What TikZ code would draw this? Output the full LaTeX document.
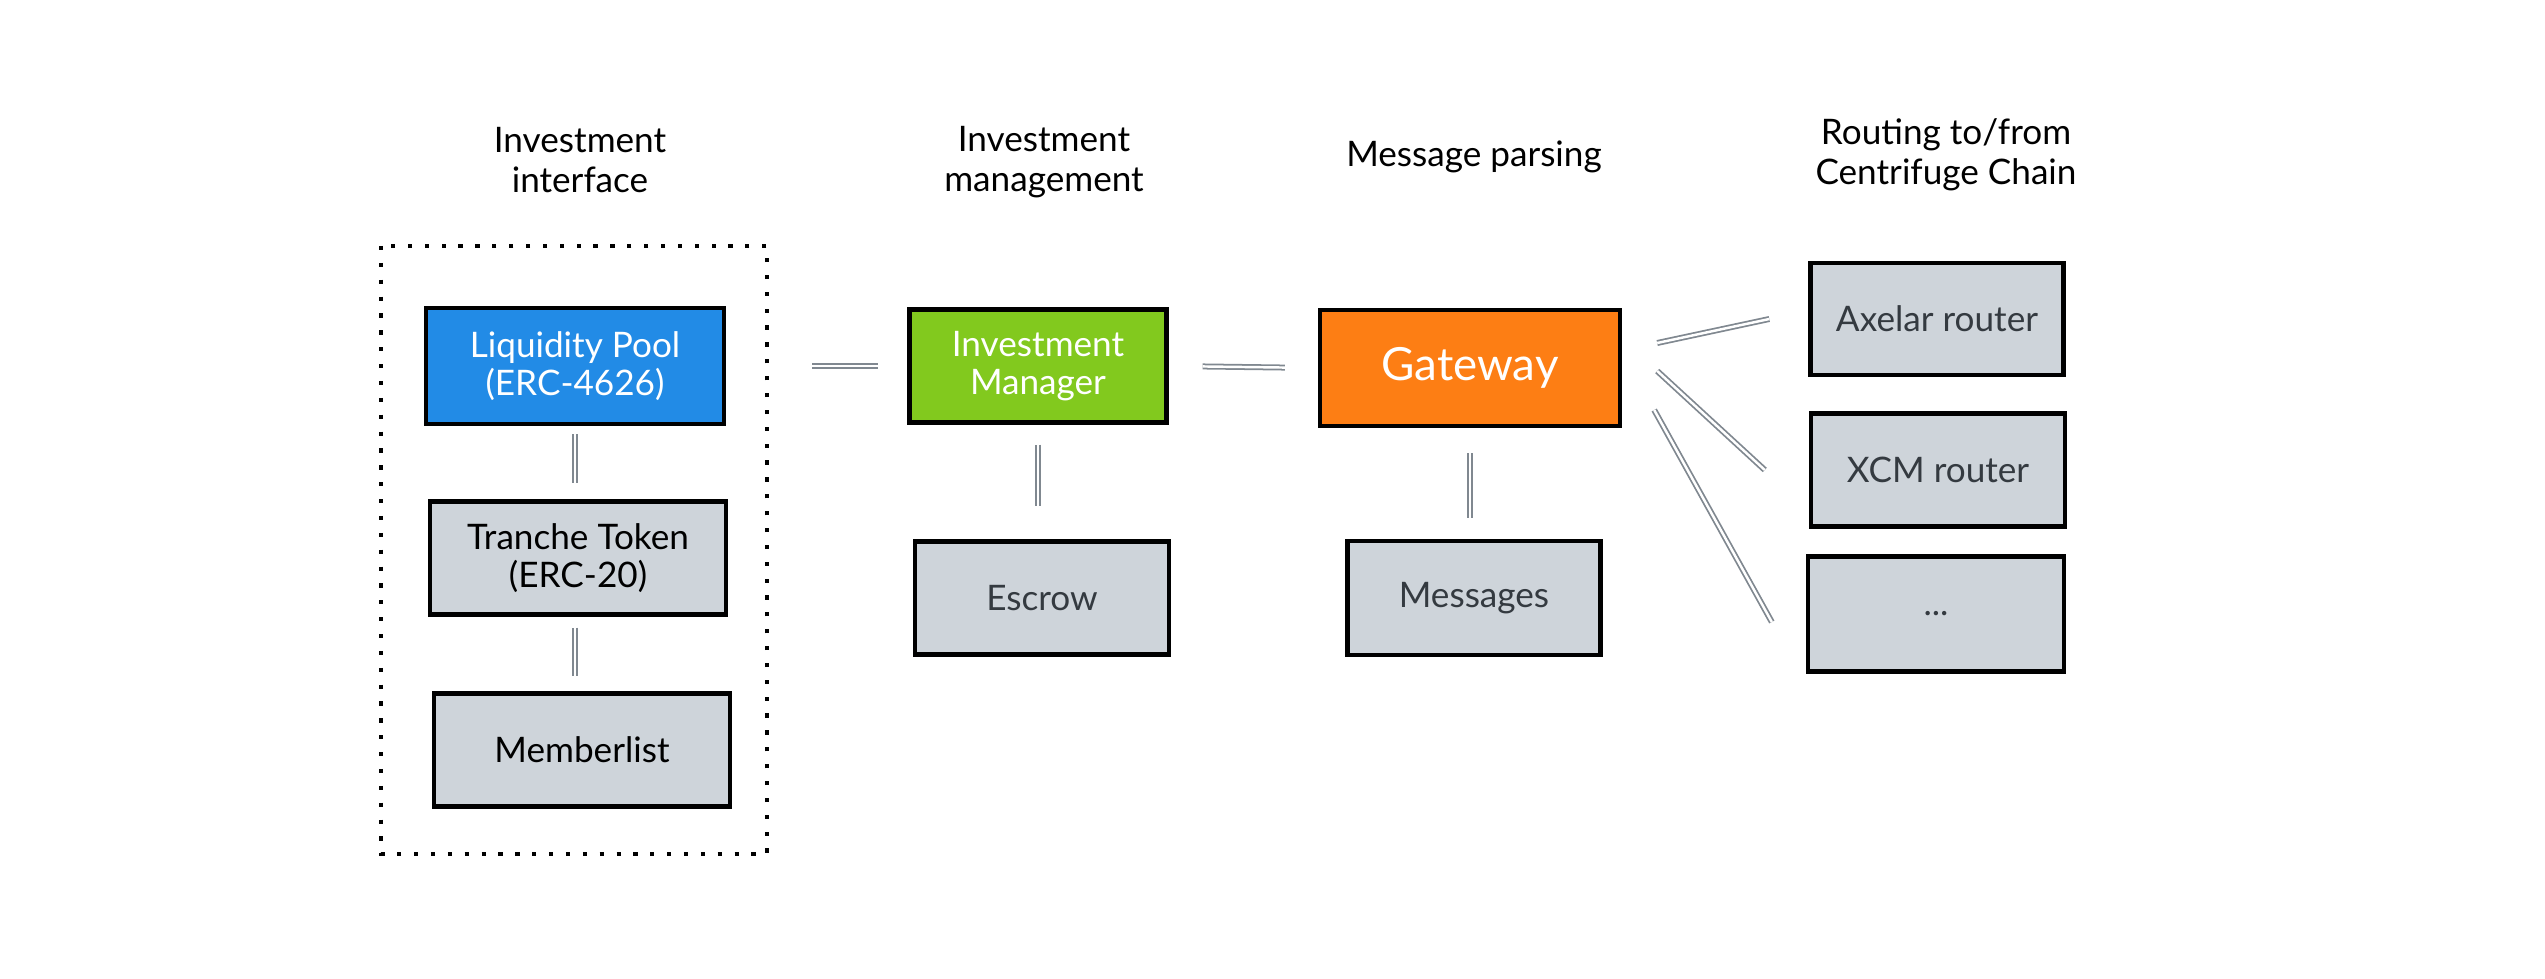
\documentclass[tikz,border=0pt]{standalone}
\usepackage{fontspec}
\setmainfont{Lato}
\usepackage{xcolor}
\definecolor{poolblue}{HTML}{228BE6}
\definecolor{mgrgreen}{HTML}{82C91E}
\definecolor{gworange}{HTML}{FD7E14}
\definecolor{boxgray}{HTML}{CED4DA}
\definecolor{textgray}{HTML}{343A40}
\definecolor{linkgray}{HTML}{808890}

\begin{document}
\begin{tikzpicture}[
  box/.style={draw=black, line width=1.25pt, fill=boxgray, minimum height=1.13cm,
    align=center, font=\fontsize{10}{10.8}\selectfont},
  title/.style={align=center, font=\fontsize{10}{11.5}\selectfont},
  link/.style={draw=linkgray, line width=0.5pt, double=white, double distance=0.7pt}
]
\useasboundingbox (0,0) rectangle (25.45,-9.79);

% Column titles
\node[title] (ttlface) at (5.80,-1.60) {Investment\\interface};
\node[title] (ttlmgmt) at (10.44,-1.62) {Investment\\management};
\node[title] (ttlparse) at (14.74,-1.57) {Message parsing};
\node[title] (ttlroute) at (19.46,-1.55) {Routing to/from\\Centrifuge Chain};

% Dotted frame round the investment interface
\draw[line width=1.2pt, dash pattern=on 1.2pt off 3.6pt] (3.81,-2.46) rectangle (7.67,-8.54);

% Investment interface column
\node[box, fill=poolblue, text=white, minimum width=2.98cm, minimum height=1.16cm] (pool) at (5.75,-3.66) {Liquidity Pool\\(ERC-4626)};
\node[box, minimum width=2.96cm] (token) at (5.78,-5.58) {Tranche Token\\(ERC-20)};
\node[box, minimum width=2.96cm] (members) at (5.82,-7.50) {Memberlist};

% Investment management column
\node[box, fill=mgrgreen, text=white, minimum width=2.57cm] (manager) at (10.38,-3.66) {Investment\\Manager};
\node[box, text=textgray, minimum width=2.54cm] (escrow) at (10.42,-5.98) {Escrow};

% Message parsing column
\node[box, fill=gworange, text=white, minimum width=3.00cm, minimum height=1.16cm,
  font=\fontsize{13}{14}\selectfont] (gateway) at (14.70,-3.68) {Gateway};
\node[box, text=textgray, minimum width=2.53cm, minimum height=1.14cm] (messages) at (14.74,-5.98) {Messages};

% Routers
\node[box, text=textgray, minimum width=2.53cm, minimum height=1.12cm] (axelar) at (19.37,-3.19) {Axelar router};
\node[box, text=textgray, minimum width=2.54cm] (xcm) at (19.38,-4.70) {XCM router};
\node[box, text=textgray, minimum width=2.56cm, minimum height=1.15cm] (others) at (19.36,-6.14) {...};

% Links
\draw[link, shorten <=0.86cm, shorten >=0.29cm] (pool.east) -- (manager.west);
\draw[link, shorten <=0.34cm, shorten >=0.33cm] (manager.east) -- (gateway.west);
\draw[link, shorten <=0.08cm, shorten >=0.16cm] (pool.south) -- (token.north -| pool.south);
\draw[link, shorten <=0.11cm, shorten >=0.15cm] (token.south -| pool.south) -- (members.north -| pool.south);
\draw[link, shorten <=0.20cm, shorten >=0.33cm] (manager.south) -- (escrow.north -| manager.south);
\draw[link, shorten <=0.25cm, shorten >=0.21cm] (gateway.south) -- (messages.north -| gateway.south);
\draw[link] ([xshift=0.35cm, yshift=0.25cm]gateway.east) -- ([xshift=-0.39cm]axelar.west);
\draw[link] ([xshift=0.35cm, yshift=-0.03cm]gateway.east) -- ([xshift=-0.44cm]xcm.west);
\draw[link] ([xshift=0.32cm, yshift=-0.42cm]gateway.east) -- ([xshift=-0.34cm, yshift=-0.08cm]others.west);
\end{tikzpicture}
\end{document}
